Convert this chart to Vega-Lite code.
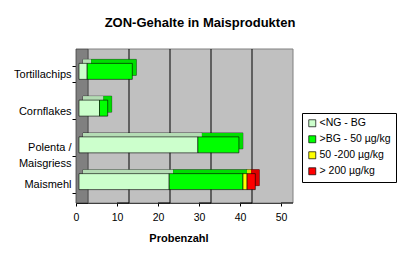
{
  "$schema": "https://vega.github.io/schema/vega-lite/v6.json",
  "width": 205,
  "height": 147,
  "autosize": {"type": "none"},
  "padding": {"left": 76, "top": 56, "right": 119, "bottom": 56},
  "background": "white",
  "title": {
    "text": "ZON-Gehalte in Maisprodukten",
    "font": "Liberation Sans",
    "fontSize": 13,
    "fontWeight": "bold",
    "color": "#000",
    "anchor": "middle",
    "frame": "group",
    "dx": 21.5,
    "offset": 9,
    "baseline": "alphabetic"
  },
  "config": {
    "font": "Liberation Sans",
    "view": {"fill": "#c0c0c0", "stroke": null},
    "axis": {
      "labelFont": "Liberation Sans",
      "labelFontSize": 10.5,
      "labelColor": "#000",
      "domainColor": "#000",
      "tickColor": "#000",
      "grid": false,
      "titleFont": "Liberation Sans",
      "titleColor": "#000"
    },
    "axisX": {
      "values": [0, 10, 20, 30, 40, 50],
      "tickSize": 3,
      "labelPadding": 6,
      "labelFlush": false,
      "titleFontSize": 11,
      "titleFontWeight": "bold",
      "titlePadding": 10
    },
    "axisY": {
      "tickSize": 4,
      "tickBand": "extent",
      "labelPadding": 1,
      "labelFontSize": 11,
      "title": null
    }
  },
  "data": {
    "values": [
      {"product": "Tortillachips", "cat": "<NG - BG", "ord": 1, "value": 2},
      {"product": "Tortillachips", "cat": ">BG - 50 µg/kg", "ord": 2, "value": 11},
      {"product": "Cornflakes", "cat": "<NG - BG", "ord": 1, "value": 5},
      {"product": "Cornflakes", "cat": ">BG - 50 µg/kg", "ord": 2, "value": 2},
      {"product": "Polenta / Maisgriess", "cat": "<NG - BG", "ord": 1, "value": 29},
      {"product": "Polenta / Maisgriess", "cat": ">BG - 50 µg/kg", "ord": 2, "value": 10},
      {"product": "Maismehl", "cat": "<NG - BG", "ord": 1, "value": 22},
      {"product": "Maismehl", "cat": ">BG - 50 µg/kg", "ord": 2, "value": 18},
      {"product": "Maismehl", "cat": "50 -200 µg/kg", "ord": 3, "value": 1},
      {"product": "Maismehl", "cat": "> 200 µg/kg", "ord": 4, "value": 2}
    ]
  },
  "resolve": {"scale": {"color": "independent"}},
  "layer": [
    {
      "data": {"values": [{}]},
      "mark": {"type": "rect", "fill": "#c0c0c0", "stroke": "#808080", "strokeWidth": 1, "xOffset": 12, "x2Offset": 12, "yOffset": -7, "y2Offset": -7},
      "encoding": {
        "x": {"datum": 0, "type": "quantitative", "scale": {"domain": [0, 50], "nice": false}, "title": "Probenzahl"},
        "x2": {"datum": 50}
      }
    },
    {
      "data": {"values": [{}]},
      "mark": {"type": "rect", "fill": "#808080", "stroke": "#404040", "strokeWidth": 0.8, "x2Offset": 12, "yOffset": -7, "y2Offset": -3},
      "encoding": {
        "x": {"datum": 0, "type": "quantitative", "title": "Probenzahl"},
        "x2": {"datum": 0}
      }
    },
    {
      "data": {"values": [{"v": 10}, {"v": 20}, {"v": 30}, {"v": 40}]},
      "mark": {"type": "rule", "color": "#000", "strokeWidth": 1, "xOffset": 12, "yOffset": -7, "y2Offset": -7},
      "encoding": {
        "x": {"field": "v", "type": "quantitative", "title": "Probenzahl"}
      }
    },
    {
      "data": {"values": [{"v": 10}, {"v": 20}, {"v": 30}, {"v": 40}, {"v": 50}]},
      "mark": {"type": "rule", "color": "#000", "strokeWidth": 1, "x2Offset": 12, "y": "height", "y2": "height", "y2Offset": -7},
      "encoding": {
        "x": {"field": "v", "type": "quantitative", "title": "Probenzahl"},
        "x2": {"field": "v"}
      }
    },
    {
      "mark": {"type": "bar", "xOffset": 7, "x2Offset": 7, "yOffset": -7, "stroke": "#000", "strokeWidth": 0.5},
      "encoding": {
        "y": {"field": "product", "type": "nominal", "sort": ["Tortillachips", "Cornflakes", "Polenta / Maisgriess", "Maismehl"], "scale": {"paddingInner": 0.565, "paddingOuter": 0.2825}, "axis": {"labelLineHeight": 16, "labelBaseline": "middle", "labelExpr": "datum.label == 'Polenta / Maisgriess' ? ['Polenta /', 'Maisgriess'] : datum.label"}},
        "x": {"field": "value", "type": "quantitative", "stack": "zero", "title": "Probenzahl"},
        "color": {"field": "cat", "type": "nominal", "scale": {"domain": ["<NG - BG", ">BG - 50 µg/kg", "50 -200 µg/kg", "> 200 µg/kg"], "range": ["#99bb99", "#008000", "#808000", "#800000"]}, "legend": null},
        "order": {"field": "ord"}
      }
    },
    {
      "mark": {"type": "bar", "xOffset": 7, "x2Offset": 3, "yOffset": -7, "stroke": null},
      "encoding": {
        "y": {"field": "product", "type": "nominal", "sort": ["Tortillachips", "Cornflakes", "Polenta / Maisgriess", "Maismehl"]},
        "x": {"field": "value", "type": "quantitative", "stack": "zero", "title": "Probenzahl"},
        "color": {"field": "cat", "type": "nominal", "scale": {"domain": ["<NG - BG", ">BG - 50 µg/kg", "50 -200 µg/kg", "> 200 µg/kg"], "range": ["#b4dcb4", "#00dd00", "#dddd00", "#dd0000"]}, "legend": null},
        "order": {"field": "ord"}
      }
    },
    {
      "mark": {"type": "bar", "xOffset": 3, "x2Offset": 3, "yOffset": -3, "stroke": "#000", "strokeWidth": 0.6},
      "encoding": {
        "y": {"field": "product", "type": "nominal", "sort": ["Tortillachips", "Cornflakes", "Polenta / Maisgriess", "Maismehl"]},
        "x": {"field": "value", "type": "quantitative", "stack": "zero", "title": "Probenzahl"},
        "color": {
          "field": "cat", "type": "nominal",
          "scale": {"domain": ["<NG - BG", ">BG - 50 µg/kg", "50 -200 µg/kg", "> 200 µg/kg"], "range": ["#ccffcc", "#00ff00", "#ffff00", "#ff0000"]},
          "legend": {
            "orient": "none", "legendX": 226, "legendY": 57, "title": null,
            "padding": 5, "strokeColor": "#000", "fillColor": "#fff", "cornerRadius": 0,
            "symbolType": "square", "symbolSize": 49, "symbolStrokeColor": "#000", "symbolStrokeWidth": 0.7,
            "labelFont": "Liberation Sans", "labelFontSize": 10.5, "labelColor": "#000",
            "rowPadding": 5, "labelOffset": 2
          }
        },
        "order": {"field": "ord"}
      }
    }
  ]
}
